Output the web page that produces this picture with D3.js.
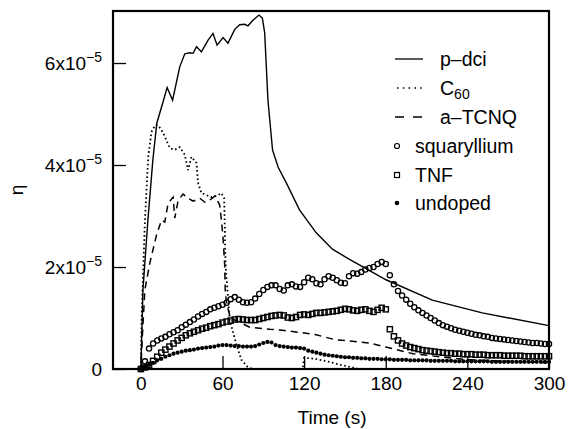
<!DOCTYPE html>
<html><head><meta charset="utf-8">
<script src="https://cdn.jsdelivr.net/npm/d3@7"></script>
<style>body{margin:0;background:#fff}svg{display:block;font-family:"Liberation Sans",Arial,Helvetica,sans-serif}</style>
</head><body><svg id="c" width="568" height="429"></svg>
<script>
// values in units of 1e-5
const xTicks = [0, 60, 120, 180, 240, 300];
const yTicks = [0, 2, 4, 6];

const pdciT = [-20, 0, 1.5, 5.1, 8.8, 11.7, 16.1, 19.3, 23.3, 28.6, 32.3, 36, 38.4, 40.9, 44.5, 49.4, 53, 56, 60.4, 64, 69, 72.6, 76.3, 78.7, 82.4, 86.8, 89.3, 91, 93.4, 96.8, 101, 106.9, 116.6, 128.9, 140.8, 153.3, 160.6, 180.2, 214.2, 250.9, 300];
const pdciV = [0, 0, 1.55, 2.9, 4.1, 4.82, 5.22, 5.52, 5.27, 5.93, 6.18, 6.2, 6.19, 6.32, 6.22, 6.45, 6.58, 6.35, 6.5, 6.39, 6.66, 6.75, 6.76, 6.73, 6.84, 6.94, 6.88, 6.59, 5.27, 4.29, 3.95, 3.65, 3.12, 2.67, 2.35, 2.15, 2.04, 1.75, 1.35, 1.1, 0.85];

const c60T = [-20, 0, 0.5, 2.9, 5.4, 7.8, 10.5, 12.7, 16.4, 21.3, 25, 28.6, 32.3, 34.7, 37.2, 40.9, 42, 44.5, 51.9, 56, 59.2, 61.2, 61.6, 62, 62.5, 65.3, 70, 73.9, 78.5, 82, 119, 120, 128, 137, 147, 154, 160];
const c60V = [0, 0, 1.0, 2.86, 4.16, 4.65, 4.78, 4.78, 4.63, 4.33, 4.3, 4.35, 4.2, 3.9, 4.16, 4.04, 3.65, 3.45, 3.37, 3.4, 3.45, 3.35, 2.9, 2.3, 1.94, 0.96, 0.5, 0.18, 0.04, 0, 0, 0.22, 0.2, 0.15, 0.08, 0.04, 0];

const tcnqT = [-20, 0, 1, 2.9, 6.6, 11.5, 15.2, 17.6, 20, 23.7, 24.9, 27.4, 31, 34.7, 38.4, 43.3, 47, 50.6, 54.3, 57.9, 59.2, 60.4, 61.6, 62, 62.9, 65.3, 69, 80, 94.6, 104, 118.8, 128.9, 143.5, 153.3, 168, 180, 200, 240, 300];
const tcnqV = [0, 0, 0.6, 1.55, 2.08, 2.63, 2.92, 2.88, 3.25, 3.37, 2.96, 3.31, 3.43, 3.35, 3.29, 3.35, 3.27, 3.31, 3.39, 3.22, 2.92, 2.57, 2.04, 1.55, 1.29, 1.06, 0.96, 0.82, 0.78, 0.76, 0.71, 0.67, 0.57, 0.55, 0.51, 0.43, 0.3, 0.18, 0.12];

const markT = [0,3,6,9,12,15,18,21,24,27,30,33,36,39,42,45,48,51,54,57,60,63,66,69,72,75,78,81,84,87,90,93,96,99,102,105,108,111,114,117,120,123,126,129,132,135,138,141,144,147,150,153,156,159,162,165,168,171,174,177,180,183,186,189,192,195,198,201,204,207,210,213,216,219,222,225,228,231,234,237,240,243,246,249,252,255,258,261,264,267,270,273,276,279,282,285,288,291,294,297,300];

const squarylliumV = [0, 0.15, 0.4, 0.5, 0.56, 0.6, 0.63, 0.68, 0.72, 0.76,
  0.82, 0.87, 0.92, 0.97, 1.03, 1.08, 1.12, 1.17, 1.2, 1.23,
  1.26, 1.3, 1.37, 1.41, 1.36, 1.31, 1.3, 1.31, 1.38, 1.47,
  1.55, 1.61, 1.64, 1.64, 1.57, 1.54, 1.64, 1.66, 1.62, 1.61,
  1.7, 1.79, 1.76, 1.68, 1.66, 1.76, 1.82, 1.79, 1.74, 1.69,
  1.68, 1.82, 1.88, 1.87, 1.9, 1.95, 1.98, 2.0, 2.06, 2.1,
  2.06, 1.84, 1.66, 1.53, 1.44, 1.36, 1.28, 1.21, 1.15, 1.1,
  1.05, 1.0, 0.95, 0.9, 0.86, 0.83, 0.8, 0.77, 0.75, 0.73,
  0.71, 0.69, 0.67, 0.66, 0.64, 0.63, 0.61, 0.6, 0.59, 0.58,
  0.57, 0.56, 0.55, 0.54, 0.53, 0.52, 0.51, 0.51, 0.5, 0.49,
  0.49];

const tnfV = [0, 0.03, 0.08, 0.16, 0.24, 0.32, 0.38, 0.44, 0.5, 0.56,
  0.61, 0.66, 0.7, 0.73, 0.76, 0.79, 0.81, 0.84, 0.86, 0.88,
  0.91, 0.93, 0.95, 0.97, 0.98, 0.97, 0.96, 0.96, 0.96, 0.98,
  1.0, 1.02, 1.04, 1.05, 1.06, 1.05, 1.01, 1.0, 1.02, 1.06,
  1.07, 1.06, 1.08, 1.1, 1.1, 1.11, 1.12, 1.13, 1.14, 1.16,
  1.18, 1.17, 1.15, 1.14, 1.16, 1.17, 1.14, 1.12, 1.16, 1.2,
  1.17, 0.78, 0.64, 0.56, 0.5, 0.46, 0.43, 0.41, 0.39, 0.37,
  0.36, 0.35, 0.34, 0.33, 0.32, 0.31, 0.31, 0.3, 0.3, 0.29,
  0.29, 0.29, 0.28, 0.28, 0.28, 0.27, 0.27, 0.27, 0.27, 0.26,
  0.26, 0.26, 0.26, 0.26, 0.25, 0.25, 0.25, 0.25, 0.25, 0.25,
  0.25];

const undopedV = [0, 0.04, 0.08, 0.12, 0.17, 0.2, 0.24, 0.27, 0.3, 0.32,
  0.34, 0.36, 0.37, 0.38, 0.4, 0.41, 0.42, 0.43, 0.44, 0.46,
  0.47, 0.47, 0.46, 0.45, 0.45, 0.44, 0.44, 0.44, 0.45, 0.48,
  0.51, 0.53, 0.52, 0.47, 0.45, 0.44, 0.43, 0.42, 0.42, 0.41,
  0.4, 0.36, 0.34, 0.32, 0.3, 0.28, 0.27, 0.26, 0.25, 0.24,
  0.23, 0.23, 0.22, 0.22, 0.21, 0.21, 0.2, 0.2, 0.2, 0.19,
  0.19, 0.19, 0.18, 0.18, 0.18, 0.18, 0.17, 0.17, 0.17, 0.17,
  0.17, 0.16, 0.16, 0.16, 0.16, 0.16, 0.16, 0.15, 0.15, 0.15,
  0.15, 0.15, 0.15, 0.15, 0.15, 0.15, 0.14, 0.14, 0.14, 0.14,
  0.14, 0.14, 0.14, 0.14, 0.14, 0.14, 0.14, 0.14, 0.14, 0.14,
  0.14];

const legendLabels = ["p–dci", "C60", "a–TCNQ", "squaryllium", "TNF", "undoped"];

const svg = d3.select("#c");
const x = d3.scaleLinear().domain([-20.5, 300]).range([113, 549]);
const y = d3.scaleLinear().domain([0, 7.02]).range([369, 11]);

const line = d3.line().x(d => x(d[0])).y(d => y(d[1]));
const zip = (a, b) => a.map((t, i) => [t, b[i]]);

// axes
const gx = svg.append("g").attr("transform", "translate(0,369)")
  .call(d3.axisBottom(x).tickValues(xTicks).tickSize(-13).tickPadding(8).tickFormat(d3.format("d")));
const gy = svg.append("g").attr("transform", "translate(113,0)")
  .call(d3.axisLeft(y).tickValues(yTicks).tickSize(-13).tickPadding(11));
[gx, gy].forEach(g => {
  g.select(".domain").remove();
  g.selectAll(".tick line").attr("stroke", "#000").attr("stroke-width", 1.3);
  g.selectAll("text").attr("font-size", 19).attr("fill", "#000").attr("font-family", '"Liberation Sans",Arial,sans-serif');
});
gy.selectAll(".tick text").each(function(d) {
  const t = d3.select(this);
  t.text(null);
  if (d === 0) { t.text("0"); return; }
  t.append("tspan").text(d + "x10");
  t.append("tspan").attr("font-size", 14).attr("dy", "-0.55em").text("−5");
});

// series lines
svg.append("path").datum(zip(pdciT, pdciV)).attr("d", line)
  .attr("fill", "none").attr("stroke", "#000").attr("stroke-width", 1.4);
svg.append("path").datum(zip(c60T, c60V)).attr("d", line)
  .attr("fill", "none").attr("stroke", "#000").attr("stroke-width", 1.8).attr("stroke-dasharray", "1.6,2.6");
svg.append("path").datum(zip(tcnqT, tcnqV)).attr("d", line)
  .attr("fill", "none").attr("stroke", "#000").attr("stroke-width", 1.5).attr("stroke-dasharray", "7,5");

// markers
const sq = zip(markT, squarylliumV), tn = zip(markT, tnfV), ud = zip(markT, undopedV);
svg.append("g").selectAll("circle").data(sq).join("circle")
  .attr("cx", d => x(d[0])).attr("cy", d => y(d[1])).attr("r", 2.6)
  .attr("fill", "none").attr("stroke", "#000").attr("stroke-width", 1.3);
svg.append("g").selectAll("rect").data(tn).join("rect")
  .attr("x", d => x(d[0]) - 2.6).attr("y", d => y(d[1]) - 2.6).attr("width", 5.2).attr("height", 5.2)
  .attr("fill", "none").attr("stroke", "#000").attr("stroke-width", 1.4);
svg.append("g").selectAll("circle").data(ud).join("circle")
  .attr("cx", d => x(d[0])).attr("cy", d => y(d[1])).attr("r", 2.1)
  .attr("fill", "#000");

// frame
svg.append("rect").attr("x", 113).attr("y", 11).attr("width", 436).attr("height", 358)
  .attr("fill", "none").attr("stroke", "#000").attr("stroke-width", 2.2);

// legend
const lgY = [59, 88, 117, 146, 175, 203];
const lg = svg.append("g").attr("font-size", 19.5);
lg.append("line").attr("x1", 395).attr("x2", 423).attr("y1", lgY[0]).attr("y2", lgY[0]).attr("stroke", "#000").attr("stroke-width", 1.3);
lg.append("line").attr("x1", 397).attr("x2", 423).attr("y1", lgY[1]).attr("y2", lgY[1]).attr("stroke", "#000").attr("stroke-width", 1.7).attr("stroke-dasharray", "1.6,4.2");
lg.append("line").attr("x1", 395).attr("x2", 423).attr("y1", lgY[2]).attr("y2", lgY[2]).attr("stroke", "#000").attr("stroke-width", 1.4).attr("stroke-dasharray", "9,9");
lg.append("circle").attr("cx", 397).attr("cy", lgY[3]).attr("r", 2.5).attr("fill", "none").attr("stroke", "#000").attr("stroke-width", 1.2);
lg.append("rect").attr("x", 394.5).attr("y", lgY[4] - 2.5).attr("width", 5).attr("height", 5).attr("fill", "none").attr("stroke", "#000").attr("stroke-width", 1.2);
lg.append("circle").attr("cx", 397).attr("cy", lgY[5]).attr("r", 2.3).attr("fill", "#000");
const lx = [440, 440, 440, 415, 415, 415];
legendLabels.forEach((s, i) => {
  const t = lg.append("text").attr("x", lx[i]).attr("y", lgY[i] + 6.5);
  if (s === "C60") {
    t.append("tspan").text("C");
    t.append("tspan").attr("font-size", 14).attr("dy", "0.35em").text("60");
  } else t.text(s);
});

// axis titles
svg.append("text").attr("x", 332).attr("y", 424).attr("text-anchor", "middle").attr("font-size", 19).text("Time (s)");
svg.append("text").attr("transform", "translate(23,190) rotate(-90)").attr("text-anchor", "middle").attr("font-size", 19).text("η");
</script></body></html>
